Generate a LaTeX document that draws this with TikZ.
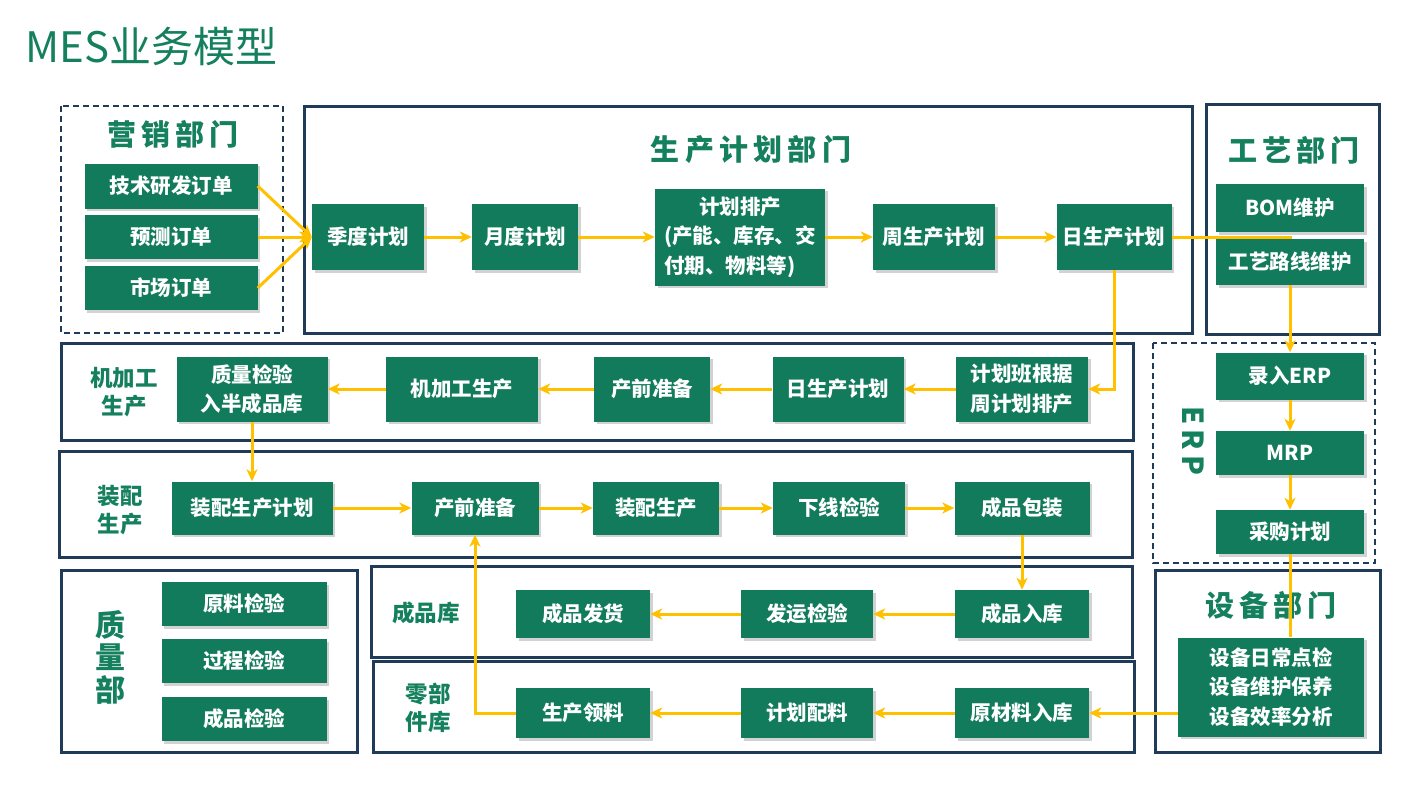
\documentclass[tikz,border=0pt]{standalone}
\usepackage{fontspec}
\setmainfont{Noto Sans CJK SC}
\newfontfamily\headfont{Noto Sans CJK SC}[LetterSpace=18]
\usetikzlibrary{math,shadows,arrows.meta}

\definecolor{boxgreen}{HTML}{127B5B}
\definecolor{headgreen}{HTML}{15805D}
\definecolor{framecol}{HTML}{1F3B57}
\definecolor{flowcol}{HTML}{FFC000}

\tikzset{
  box/.style={fill=boxgreen, text=white, align=center, inner sep=1pt,
    font=\bfseries\fontsize{20.5}{29.5}\selectfont,
    drop shadow={shadow xshift=2.5pt, shadow yshift=-2.5pt, opacity=0.35}},
  sz/.style 2 args={minimum width=#1pt, minimum height=#2pt},
  part/.style={draw=framecol, line width=3pt, fill=white,
    drop shadow={shadow xshift=2pt, shadow yshift=-2pt, opacity=0.2}},
  dept/.style={draw=framecol, line width=1.5pt, dash pattern=on 6pt off 4pt},
  head/.style={text=headgreen, inner sep=0pt, font=\headfont\bfseries\fontsize{29}{32}\selectfont},
  tag/.style={text=headgreen, align=center, inner sep=0pt, font=\bfseries\fontsize{22.5}{28}\selectfont},
  flow/.style={draw=flowcol, line width=3pt, -{Stealth[length=12pt,width=11pt,inset=3.5pt]}},
  link/.style={draw=flowcol, line width=3pt},
}

\begin{document}
\begin{tikzpicture}[x=1pt,y=-1pt]
  \tikzmath{
    real \rowA,\rowB,\rowC,\rowD,\rowE;
    \rowA=237;
    \rowB=389;
    \rowC=508;
    \rowD=614;
    \rowE=713;
  }
  \useasboundingbox (0,0) rectangle (1422,800);

  \node[anchor=west, inner sep=0pt, text=headgreen, font=\fontsize{42}{46}\selectfont] (title) at (25,47) {MES业务模型};

  \draw[dept] (61,106) rectangle (283,333);
  \draw[part] (304,106) rectangle (1192,333);
  \draw[part] (1206,104) rectangle (1379,334);
  \draw[part] (61,343) rectangle (1133,440);
  \draw[dept] (1153,343) rectangle (1375,563);
  \draw[part] (59,451) rectangle (1132,557);
  \draw[part] (61,570) rectangle (357,752);
  \draw[part] (371,566) rectangle (1132,657);
  \draw[part] (373,661) rectangle (1134,752);
  \draw[part] (1155,570) rectangle (1380,752);

  \node[head] (hm) at (173,134) {营销部门};
  \node[head] (hp) at (751,150) {生产计划部门};
  \node[head] (ht) at (1294,150) {工艺部门};
  \node[head] (he) at (1271,605) {设备部门};
  \node[head, rotate=-90] (hr) at (1193,441) {ERP};
  \node[tag] (tj) at (124,392) {机加工\\生产};
  \node[tag] (tz) at (120,510) {装配\\生产};
  \node[tag] (tk) at (426,613) {成品库};
  \node[tag] (tl) at (428,708) {零部\\件库};
  \node[tag, font=\bfseries\fontsize{30}{32.5}\selectfont] (tq) at (110,657) {质\\量\\部};

  \node[box, sz={173}{45}] (o1) at (171,186) {技术研发订单};
  \node[box, sz={173}{44}] (o2) at (171,237) {预测订单};
  \node[box, sz={173}{44}] (o3) at (171,288) {市场订单};

  \node[box, sz={112}{66}] (q) at (368,\rowA) {季度计划};
  \node[box, sz={106}{66}] (m) at (525,\rowA) {月度计划};
  \node[box, sz={170}{97}] (s) at (740,\rowA) {计划排产\\(产能、库存、交\\付期、物料等)\hphantom{交}};
  \node[box, sz={122}{66}] (w) at (934,\rowA) {周生产计划};
  \node[box, sz={115}{66}] (d) at (1114,\rowA) {日生产计划};

  \node[box, sz={148}{48}] (bom) at (1290,208) {BOM维护};
  \node[box, sz={148}{46}] (route) at (1290,262) {工艺路线维护};
  \node[box, sz={148}{47}] (erp) at (1290,376) {录入ERP};
  \node[box, sz={148}{44}] (mrp) at (1290,453) {MRP};
  \node[box, sz={148}{44}] (buy) at (1290,532) {采购计划};
  \node[box, sz={186}{99}] (eq) at (1271,687) {设备日常点检\\设备维护保养\\设备效率分析};

  \node[box, sz={132}{65}] (a1) at (1022,\rowB) {计划班根据\\周计划排产};
  \node[box, sz={131}{65}] (a2) at (838,\rowB) {日生产计划};
  \node[box, sz={116}{65}] (a3) at (652,\rowB) {产前准备};
  \node[box, sz={152}{65}] (a4) at (462,\rowB) {机加工生产};
  \node[box, sz={151}{65}] (a5) at (252,\rowB) {质量检验\\入半成品库};

  \node[box, sz={161}{53}] (b1) at (252,\rowC) {装配生产计划};
  \node[box, sz={127}{53}] (b2) at (475,\rowC) {产前准备};
  \node[box, sz={126}{53}] (b3) at (656,\rowC) {装配生产};
  \node[box, sz={132}{53}] (b4) at (839,\rowC) {下线检验};
  \node[box, sz={135}{53}] (b5) at (1022,\rowC) {成品包装};

  \node[box, sz={134}{48}] (c1) at (1022,\rowD) {成品入库};
  \node[box, sz={132}{48}] (c2) at (807,\rowD) {发运检验};
  \node[box, sz={134}{48}] (c3) at (583,\rowD) {成品发货};

  \node[box, sz={134}{50}] (e1) at (1022,\rowE) {原材料入库};
  \node[box, sz={132}{50}] (e2) at (807,\rowE) {计划配料};
  \node[box, sz={134}{50}] (e3) at (583,\rowE) {生产领料};

  \node[box, sz={165}{44}] (k1) at (244,604) {原料检验};
  \node[box, sz={165}{44}] (k2) at (244,661) {过程检验};
  \node[box, sz={165}{44}] (k3) at (244,719) {成品检验};

  \foreach \o in {o1,o2,o3}
    \draw[flow] (\o.east) -- (q.west);
  \foreach \a/\b in {q/m,m/s,s/w,w/d,a1/a2,a2/a3,a3/a4,a4/a5,b1/b2,b2/b3,b3/b4,b4/b5,c1/c2,c2/c3,e1/e2,e2/e3,route/erp,erp/mrp,mrp/buy,a5/b1,b5/c1}
    \draw[flow] (\a) -- (\b);
  \draw[link] (d.east) -- (d.east -| route.north) -- (route.north);
  \draw[flow] (d.south) |- (a1.east);
  \draw[link] (buy.south) -- (buy.south |- eq.north);
  \draw[flow] (eq.west |- e1.east) -- (e1.east);
  \draw[flow] (e3.west) -| (b2.south);
\end{tikzpicture}
\end{document}
